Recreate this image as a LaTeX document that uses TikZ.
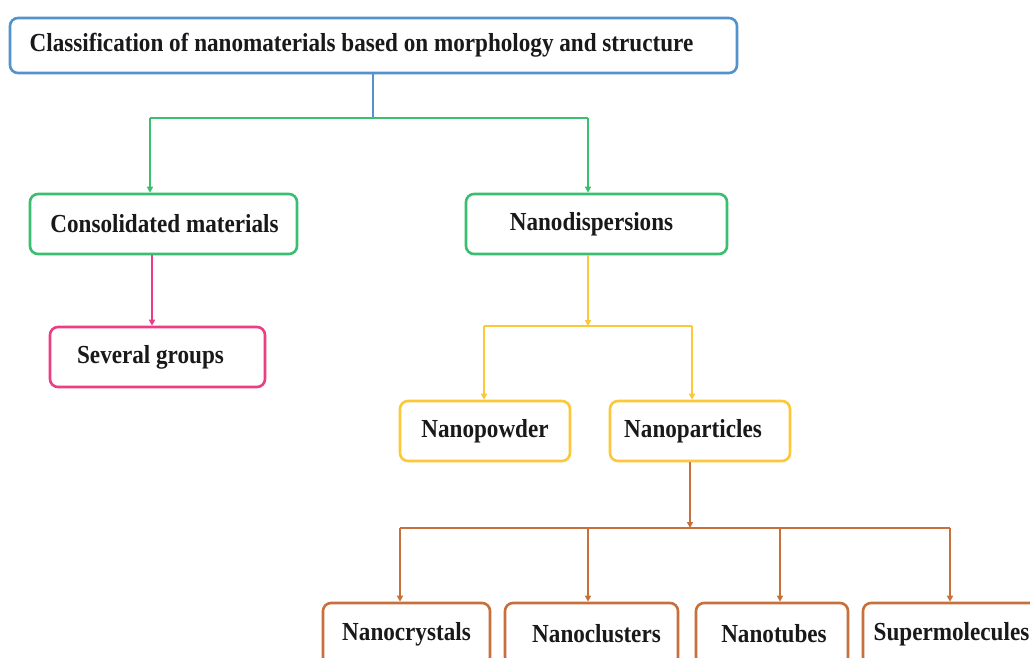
\documentclass[tikz,border=0pt]{standalone}
\usepackage{fontspec}
\setmainfont[FakeStretch=0.89]{Liberation Serif}
\usetikzlibrary{arrows.meta}

\definecolor{cblue}{RGB}{84,146,206}
\definecolor{cgreen}{RGB}{58,190,112}
\definecolor{cpink}{RGB}{236,62,132}
\definecolor{cyellow}{RGB}{252,200,58}
\definecolor{cbrown}{RGB}{200,112,60}

\tikzset{
	box/.style={draw, line width=2.6pt, rounded corners=8pt, fill=white, inner sep=0pt,
		font=\fontsize{26}{30}\selectfont\bfseries, text=black!90},
	link/.style={line width=2.3pt, -{Triangle[length=6pt,width=6pt]}},
}

\begin{document}
\begin{tikzpicture}[x=1pt,y=-1pt]
	\useasboundingbox (0,0) rectangle (1030,657);
	\clip (0,0) rectangle (1030,657);
	\fill [white] (0,0) rectangle (1030,657);
	%
	\node [box, draw=cblue, minimum width=727pt, minimum height=55pt] (root) at (373.5,45.5) {Classification of nanomaterials based on morphology and structure\hspace*{24pt}};
	\node [box, draw=cgreen, minimum width=267pt, minimum height=60pt] (cons) at (163.5,224) {\hspace*{2pt}Consolidated materials};
	\node [box, draw=cgreen, minimum width=261pt, minimum height=60pt] (disp) at (596.5,224) {Nanodispersions\hspace*{10pt}};
	\node [box, draw=cpink, minimum width=215pt, minimum height=60pt] (groups) at (157.5,357) {Several groups\hspace*{14pt}};
	\node [box, draw=cyellow, minimum width=170pt, minimum height=60pt] (powder) at (485,431) {Nanopowder};
	\node [box, draw=cyellow, minimum width=180pt, minimum height=60pt] (part) at (700,431) {Nanoparticles\hspace*{14pt}};
	\node [box, draw=cbrown, minimum width=167pt, minimum height=62pt] (crystals) at (406.5,634) {Nanocrystals};
	\node [box, draw=cbrown, minimum width=173pt, minimum height=62pt] (clusters) at (591.5,634) {\hspace*{10pt}Nanoclusters};
	\node [box, draw=cbrown, minimum width=152pt, minimum height=62pt] (tubes) at (772,634) {\hspace*{4pt}Nanotubes};
	\node [box, draw=cbrown, minimum width=177pt, minimum height=62pt] (molec) at (951.5,634) {Supermolecules};
	%
	\coordinate (j1) at (373,118);
	\coordinate (j1l) at (150,118);
	\coordinate (j1r) at (588,118);
	\draw [line width=2.3pt, cblue] (root.south -| j1) -- (j1);
	\draw [line width=2.3pt, cgreen] (j1l) -- (j1r);
	\draw [link, cgreen] (j1l) -- (j1l |- cons.north);
	\draw [link, cgreen] (j1r) -- (j1r |- disp.north);
	%
	\coordinate (j2) at (152,253);
	\draw [link, cpink] (cons.south -| j2) -- (j2 |- groups.north);
	%
	\coordinate (j3) at (588,326);
	\coordinate (j3l) at (484,326);
	\coordinate (j3r) at (692,326);
	\draw [link, cyellow] (disp.south -| j3) -- (j3);
	\draw [line width=2.3pt, cyellow] (j3l) -- (j3r);
	\draw [link, cyellow] (j3l) -- (j3l |- powder.north);
	\draw [link, cyellow] (j3r) -- (j3r |- part.north);
	%
	\coordinate (j4) at (690,528);
	\draw [link, cbrown] (part.south -| j4) -- (j4);
	\draw [line width=2.3pt, cbrown] (400,528) -- (950,528);
	\foreach \x/\n in {400/crystals,588/clusters,780/tubes,950/molec}
		\draw [link, cbrown] (\x,528) -- (\x,528 |- \n.north);
\end{tikzpicture}
\end{document}
